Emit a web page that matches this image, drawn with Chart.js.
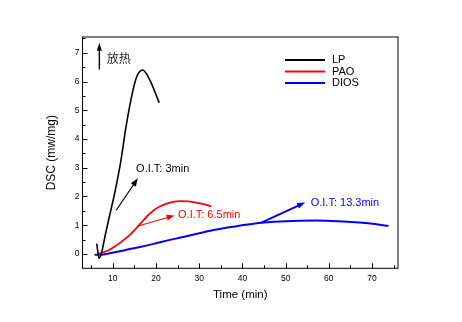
<!DOCTYPE html>
<html>
<head>
<meta charset="utf-8">
<script src="https://cdn.jsdelivr.net/npm/chart.js@4/dist/chart.umd.min.js"></script>
<style>
  html, body { margin: 0; padding: 0; background: #fff; }
  #wrap { width: 462px; height: 322px; }
</style>
</head>
<body>
<div id="wrap"><canvas id="dsc" width="462" height="322"></canvas></div>
<script>
// data (time in min, DSC in mw/mg)
const lpTime = [6.3, 6.83, 7.36, 8.3, 9.14, 10.06, 10.9, 11.84, 13.06, 14.52, 15.5, 16.92, 18.6, 19.75, 20.75];
const lpDsc = [0.36, -0.15, 0.01, 0.68, 1.25, 1.85, 2.45, 3.2, 4.42, 5.59, 6.15, 6.4, 6.05, 5.64, 5.26];

const paoTime = [6.6, 7.5, 8.9, 10.5, 12, 13.5, 15, 16.5, 18, 19.5, 21, 23, 25.5, 27.5, 29.5, 31, 32.8];
const paoDsc = [0, 0.04, 0.12, 0.26, 0.42, 0.6, 0.82, 1.07, 1.32, 1.52, 1.66, 1.78, 1.84, 1.83, 1.78, 1.73, 1.66];

const diosTime = [5.8, 7, 8.5, 10.5, 12.8, 16, 19.5, 23, 26.3, 30, 34, 38, 41.7, 45, 50, 57, 62, 67, 71, 73.8];
const diosDsc = [-0.03, -0.03, 0, 0.06, 0.13, 0.23, 0.35, 0.48, 0.59, 0.72, 0.85, 0.95, 1.03, 1.09, 1.14, 1.16, 1.14, 1.09, 1.03, 0.97];

const seriesNames = ['LP', 'PAO', 'DIOS'];
const seriesColors = ['#000000', '#ff0000', '#0000ff'];

const FONT = '"Liberation Sans", Arial, sans-serif';

function toPoints(xs, ys) {
  return xs.map((x, i) => ({ x: x, y: ys[i] }));
}

function arrow(ctx, x1, y1, x2, y2, color, width, head, half) {
  const a = Math.atan2(y2 - y1, x2 - x1);
  const c = Math.cos(a), s = Math.sin(a);
  ctx.save();
  ctx.strokeStyle = color;
  ctx.fillStyle = color;
  ctx.lineWidth = width;
  ctx.beginPath();
  ctx.moveTo(x1, y1);
  ctx.lineTo(x2 - head * 0.7 * c, y2 - head * 0.7 * s);
  ctx.stroke();
  ctx.beginPath();
  ctx.moveTo(x2, y2);
  ctx.lineTo(x2 - head * c + half * s, y2 - head * s - half * c);
  ctx.lineTo(x2 - head * c - half * s, y2 - head * s + half * c);
  ctx.closePath();
  ctx.fill();
  ctx.restore();
}

// notes drawn on the plot, positioned in data units
const notes = [
  { text: 'O.I.T: 3min', color: '#000', at: [15.4, 2.95], from: [10.8, 1.52], to: [15.8, 2.63], w: 1.2 },
  { text: 'O.I.T: 6.5min', color: '#ff0000', at: [25.1, 1.35], from: [16.1, 0.98], to: [24.3, 1.34], w: 1.2 },
  { text: 'O.I.T: 13.3min', color: '#0000ff', at: [55.8, 1.79], from: [44.4, 1.09], to: [54.5, 1.79], w: 2 }
];

// frame + inward major/minor ticks
const frameTicks = {
  id: 'frameTicks',
  beforeDatasetsDraw(chart) {
    const { ctx, chartArea: a, scales: { x, y } } = chart;
    ctx.save();
    ctx.strokeStyle = '#000';
    ctx.lineWidth = 1;
    ctx.strokeRect(a.left, a.top, a.right - a.left, a.bottom - a.top);
    ctx.beginPath();
    for (let v = 5; v <= 75; v += 5) {
      const px = Math.round(x.getPixelForValue(v)) + 0.5;
      const len = v % 10 === 0 ? 5 : 3;
      ctx.moveTo(px, a.bottom);
      ctx.lineTo(px, a.bottom - len);
    }
    for (let v = 0; v <= 7.5; v += 0.5) {
      const py = Math.round(y.getPixelForValue(v)) + 0.5;
      const len = v % 1 === 0 ? 5 : 3;
      ctx.moveTo(a.left, py);
      ctx.lineTo(a.left + len, py);
    }
    ctx.stroke();
    ctx.restore();
  },
  afterDatasetsDraw(chart) {
    const { ctx, scales: { x, y } } = chart;
    ctx.save();
    // exotherm arrow
    arrow(ctx, x.getPixelForValue(6.9), y.getPixelForValue(6.42),
      x.getPixelForValue(6.9), y.getPixelForValue(7.35), '#000', 1.4, 8, 2.5);
    ctx.font = '12px "Noto Sans CJK SC", sans-serif';
    ctx.fillStyle = '#222';
    ctx.textBaseline = 'middle';
    ctx.fillText('放热', x.getPixelForValue(8.6), y.getPixelForValue(6.82));

    ctx.font = '11px ' + FONT;
    notes.forEach(n => {
      arrow(ctx, x.getPixelForValue(n.from[0]), y.getPixelForValue(n.from[1]),
        x.getPixelForValue(n.to[0]), y.getPixelForValue(n.to[1]), n.color, n.w, 8, 3);
      ctx.fillStyle = n.color;
      ctx.fillText(n.text, x.getPixelForValue(n.at[0]), y.getPixelForValue(n.at[1]));
    });

    // legend
    const rows = [60, 71.5, 83];
    chart.data.datasets.forEach((ds, i) => {
      ctx.strokeStyle = ds.borderColor;
      ctx.lineWidth = 1.8;
      ctx.beginPath();
      ctx.moveTo(285, rows[i]);
      ctx.lineTo(325, rows[i]);
      ctx.stroke();
      ctx.fillStyle = '#000';
      ctx.fillText(ds.label, 332, rows[i]);
    });
    ctx.restore();
  }
};

const ctx = document.getElementById('dsc').getContext('2d');

new Chart(ctx, {
  type: 'line',
  data: {
    datasets: [
      { label: seriesNames[0], data: toPoints(lpTime, lpDsc), borderColor: seriesColors[0], borderWidth: 1.6 },
      { label: seriesNames[1], data: toPoints(paoTime, paoDsc), borderColor: seriesColors[1], borderWidth: 1.8 },
      { label: seriesNames[2], data: toPoints(diosTime, diosDsc), borderColor: seriesColors[2], borderWidth: 2 }
    ].map(d => Object.assign(d, { pointRadius: 0, cubicInterpolationMode: 'monotone', fill: false }))
  },
  options: {
    responsive: false,
    animation: false,
    layout: { padding: { top: 37, right: 64, left: 0, bottom: 0 } },
    plugins: { legend: { display: false }, tooltip: { enabled: false } },
    scales: {
      x: {
        type: 'linear',
        min: 3,
        max: 76,
        afterFit(scale) { scale.height = 53.7; },
        grid: { display: false, drawTicks: false },
        border: { display: false },
        ticks: { stepSize: 10, includeBounds: false, padding: 5, color: '#000', font: { family: FONT, size: 8.5 } },
        title: { display: true, text: 'Time (min)', color: '#000', font: { family: FONT, size: 11.5 }, padding: { top: 0, bottom: 20.6 } }
      },
      y: {
        type: 'linear',
        min: -0.5,
        max: 7.55,
        afterFit(scale) { scale.width = 82.5; },
        grid: { display: false, drawTicks: false },
        border: { display: false },
        ticks: { stepSize: 1, includeBounds: false, padding: 3, color: '#000', font: { family: FONT, size: 8.5 } },
        title: { display: true, text: 'DSC (mw/mg)', color: '#000', font: { family: FONT, size: 12 }, padding: { top: 44.8, bottom: 0 } }
      }
    }
  },
  plugins: [frameTicks]
});
</script>
</body>
</html>
